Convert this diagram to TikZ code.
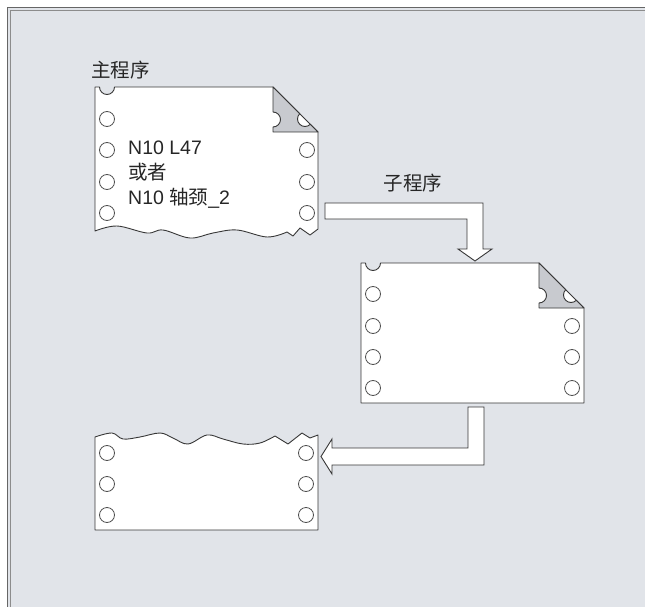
\documentclass[tikz,border=0pt]{standalone}
\usepackage{fontspec}
\setmainfont{Liberation Sans}
\newfontfamily\cjk{Noto Sans CJK SC}
\usetikzlibrary{positioning}
\definecolor{frameBg}{RGB}{225,228,233}
\definecolor{flapGray}{RGB}{200,202,207}
\definecolor{lineDark}{RGB}{55,55,55}
\definecolor{holeGray}{RGB}{80,80,80}

\begin{document}
\begin{tikzpicture}[
    x=1pt, y=-1pt,
    sheet/.style={draw=lineDark, fill=white, line width=0.9pt, line join=round},
    flap/.style={draw=lineDark, fill=flapGray, line width=0.9pt, line join=round},
    hole/.style={draw=holeGray, fill=white, line width=0.8pt},
    blockarrow/.style={draw=lineDark, fill=white, line width=0.9pt, line join=miter},
    captiontext/.style={font=\fontsize{19.5}{25}\selectfont, inner sep=0pt, text=black!85}
]
    % Frame
    \useasboundingbox (0,0) rectangle (645,607);
    \fill[frameBg] (7,7) rectangle (645,607);
    \draw[black!60, line width=1.2pt] (7.8,607) -- (7.8,7.8) -- (645,7.8);
    \draw[black!45, line width=1.2pt] (10.8,607) -- (10.8,10.8) -- (645,10.8);

    \coordinate (main) at (95,87);
    \coordinate (sub) at (361,263);
    \coordinate (back) at (95,433);

    % Main program sheet
    \begin{scope}[shift={(main)}]
        \draw[sheet] (0,144) -- (0,0) -- (4.5,0) arc[start angle=180, end angle=360, radius=7.5pt]
            -- (178,0) -- (223,45) -- (223,142) -- (215,148) -- (205,141) -- (198,149) -- (192,145)
            -- plot[smooth, tension=0.6] coordinates {(192,145) (172,150) (142,143) (118,146) (95,151) (68,143) (52,146) (22,139) (0,144)}
            -- cycle;
        \draw[flap] (178,0) -- (178,25) arc[start angle=90, end angle=-90, radius=7.5pt] -- (178,45)
            -- (223,45) -- (215.3,37.3) arc[start angle=315, end angle=135, radius=7.5pt] -- cycle;
        \foreach \y in {32,63,95,126}
            \draw[hole] (12,\y) circle (7.5pt);
        \foreach \y in {63,95,126}
            \draw[hole] (212,\y) circle (7.5pt);
        \node[captiontext, anchor=west, align=left] (call) at (33,88)
            {N10 L47\\{\cjk 或者}\\N10 {\cjk 轴颈}\_2};
    \end{scope}
    \node[captiontext, anchor=west] (maintitle) at (91,70) {\cjk 主程序};

    % Subprogram sheet
    \begin{scope}[shift={(sub)}]
        \draw[sheet] (0,140) -- (0,0) -- (4.5,0) arc[start angle=180, end angle=360, radius=7.5pt]
            -- (178,0) -- (223,45) -- (223,140) -- cycle;
        \draw[flap] (178,0) -- (178,25) arc[start angle=90, end angle=-90, radius=7.5pt] -- (178,45)
            -- (223,45) -- (215.3,37.3) arc[start angle=315, end angle=135, radius=7.5pt] -- cycle;
        \foreach \y in {31,63,94,125}
            \draw[hole] (12,\y) circle (7.5pt);
        \foreach \y in {63,94,125}
            \draw[hole] (211,\y) circle (7.5pt);
    \end{scope}
    \node[captiontext] (subtitle) at (413,183) {\cjk 子程序};

    % Return sheet
    \begin{scope}[shift={(back)}]
        \draw[sheet] (223,2) -- (223,97) -- (0,97)
            -- plot[smooth, tension=0.6] coordinates {(0,4) (17,0) (28,6) (45,4) (65,0) (78,5) (93,11) (112,2) (128,6) (148,11) (165,10) (180,3)}
            -- (193,11) -- (207,0) -- (215,5) -- cycle;
        \foreach \y in {20,51,82} {
            \draw[hole] (12,\y) circle (7.5pt);
            \draw[hole] (211,\y) circle (7.5pt);
        }
    \end{scope}

    % Jumps
    \draw[blockarrow] (325,203) -- (483,203) -- (483,249) -- (492,249) -- (475,261) -- (458,249)
        -- (467,249) -- (467,219) -- (325,219) -- cycle;
    \draw[blockarrow] (468,407) -- (484,407) -- (484,465) -- (332,465) -- (332,474) -- (321,456.5)
        -- (332,439) -- (332,448) -- (468,448) -- cycle;
\end{tikzpicture}
\end{document}
